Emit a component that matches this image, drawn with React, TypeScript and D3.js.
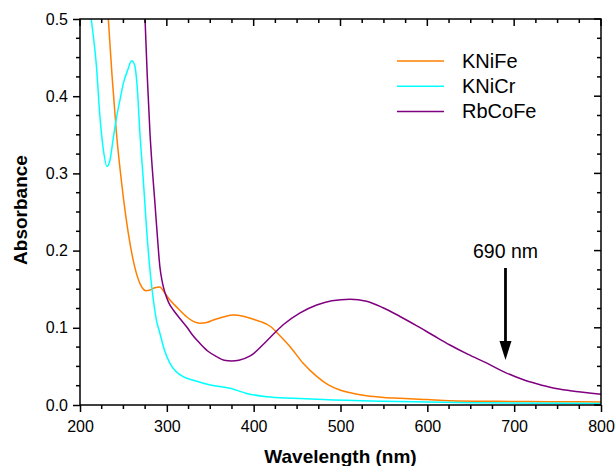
import React, { useEffect, useRef } from "react";
import * as d3 from "d3";

// KNiFe spectrum
const kniFeWavelength = [220, 226, 232.6, 237, 242, 248, 255.7, 263, 271, 276, 280.6, 286, 292, 297, 303.6, 313, 323, 331, 338, 346, 353.5, 365, 376.5, 388, 399.6, 408, 419, 430, 442, 457, 472.6, 486, 499.4, 515, 530, 550, 568.5, 600, 626, 680, 740, 800];
const kniFeAbsorbance = [0.70, 0.60, 0.5, 0.425, 0.352, 0.287, 0.222, 0.179, 0.153, 0.148, 0.149, 0.152, 0.153, 0.146, 0.136, 0.125, 0.114, 0.108, 0.106, 0.107, 0.110, 0.114, 0.1166, 0.115, 0.111, 0.108, 0.102, 0.090, 0.0755, 0.054, 0.037, 0.026, 0.0194, 0.015, 0.012, 0.0098, 0.0087, 0.007, 0.0056, 0.0048, 0.0043, 0.0040];

// KNiCr spectrum
const kniCrWavelength = [200, 206, 213, 219, 223, 227, 231, 234.5, 238, 242, 246, 250, 255, 259.5, 263, 266, 269, 273, 277, 281, 284.5, 288, 292, 297, 303.6, 310, 320, 330.5, 350, 373, 392, 415, 446, 480, 550, 650, 800];
const kniCrAbsorbance = [0.64, 0.57, 0.5, 0.438, 0.373, 0.330, 0.309, 0.317, 0.343, 0.372, 0.395, 0.417, 0.434, 0.446, 0.44, 0.41, 0.352, 0.29, 0.223, 0.17, 0.136, 0.11, 0.093, 0.072, 0.054, 0.044, 0.036, 0.032, 0.026, 0.0216, 0.015, 0.0108, 0.0087, 0.007, 0.0048, 0.003, 0.002];

// RbCoFe spectrum
const rbCoFeWavelength = [270, 274.9, 277.5, 280.6, 283, 286, 289, 292, 295, 298, 302, 307.5, 315, 323, 330, 338, 347, 357.4, 366, 374.7, 383, 396, 415, 434, 453, 472.6, 490, 511, 530, 549, 568, 588, 607, 626, 647, 668, 690, 710, 726, 745, 764.6, 800];
const rbCoFeAbsorbance = [0.63, 0.5, 0.425, 0.352, 0.31, 0.266, 0.22, 0.179, 0.158, 0.145, 0.133, 0.123, 0.112, 0.101, 0.090, 0.080, 0.070, 0.0626, 0.058, 0.057, 0.058, 0.0635, 0.083, 0.104, 0.119, 0.1295, 0.135, 0.137, 0.1345, 0.126, 0.115, 0.1025, 0.090, 0.0777, 0.0655, 0.0545, 0.042, 0.033, 0.0275, 0.022, 0.0185, 0.014];

const seriesNames = ["KNiFe", "KNiCr", "RbCoFe"];
const seriesColors = ["#FF7F00", "#00FFFF", "#800080"];

const xTicks = [200, 300, 400, 500, 600, 700, 800];
const yTicks = [0.0, 0.1, 0.2, 0.3, 0.4, 0.5];
const markerWavelength = 690;
const markerLabel = "690 nm";

const W = 616;
const H = 466;
const M = { left: 80, right: 601, top: 19, bottom: 405 };
const FONT = "'Liberation Sans', Arial, sans-serif";

export default function App() {
  const ref = useRef<SVGSVGElement>(null);

  useEffect(() => {
    const svg = d3.select(ref.current);
    svg.selectAll("*").remove();

    const x = d3.scaleLinear().domain([200, 800]).range([M.left, M.right]);
    const y = d3.scaleLinear().domain([0, 0.5]).range([M.bottom, M.top]);

    svg.append("defs").append("clipPath").attr("id", "plot-clip")
      .append("rect")
      .attr("x", M.left).attr("y", M.top)
      .attr("width", M.right - M.left).attr("height", M.bottom - M.top);

    const series = [
      { wl: kniFeWavelength, ab: kniFeAbsorbance },
      { wl: kniCrWavelength, ab: kniCrAbsorbance },
      { wl: rbCoFeWavelength, ab: rbCoFeAbsorbance },
    ];

    const line = d3.line<[number, number]>()
      .x(d => x(d[0]))
      .y(d => y(d[1]))
      .curve(d3.curveMonotoneX);

    const plot = svg.append("g").attr("clip-path", "url(#plot-clip)");
    series.forEach((s, i) => {
      const pts = s.wl.map((w, j) => [w, s.ab[j]] as [number, number]);
      plot.append("path")
        .attr("d", line(pts))
        .attr("fill", "none")
        .attr("stroke", seriesColors[i])
        .attr("stroke-width", 1.5);
    });

    // Frame
    svg.append("rect")
      .attr("x", M.left).attr("y", M.top)
      .attr("width", M.right - M.left).attr("height", M.bottom - M.top)
      .attr("fill", "none").attr("stroke", "#000").attr("stroke-width", 1.5);

    const xMinor = d3.range(200, 800.1, 25).filter(v => v % 100 !== 0);
    const yMinor = d3.range(0, 0.5001, 0.025).filter(v => Math.abs(v * 10 - Math.round(v * 10)) > 1e-6);

    // Bottom axis (outward ticks)
    const bottom = d3.axisBottom(x).tickValues(xTicks).tickSize(7).tickPadding(9).tickFormat(d3.format("d"));
    const gb = svg.append("g").attr("transform", `translate(0,${M.bottom})`).call(bottom);
    xMinor.forEach(v => {
      gb.append("line").attr("x1", x(v)).attr("x2", x(v)).attr("y1", 0).attr("y2", 4).attr("stroke", "#000").attr("stroke-width", 1.5);
    });

    // Left axis (outward ticks)
    const left = d3.axisLeft(y).tickValues(yTicks).tickSize(7).tickPadding(5).tickFormat(d3.format(".1f"));
    const gl = svg.append("g").attr("transform", `translate(${M.left},0)`).call(left);
    yMinor.forEach(v => {
      gl.append("line").attr("x1", 0).attr("x2", -4).attr("y1", y(v)).attr("y2", y(v)).attr("stroke", "#000").attr("stroke-width", 1.5);
    });

    // Top axis (inward ticks)
    const gt = svg.append("g");
    xTicks.forEach(v => gt.append("line").attr("x1", x(v)).attr("x2", x(v)).attr("y1", M.top).attr("y2", M.top + 7).attr("stroke", "#000").attr("stroke-width", 1.5));
    xMinor.forEach(v => gt.append("line").attr("x1", x(v)).attr("x2", x(v)).attr("y1", M.top).attr("y2", M.top + 4).attr("stroke", "#000").attr("stroke-width", 1.5));

    // Right axis (inward ticks)
    const gr = svg.append("g");
    yTicks.forEach(v => gr.append("line").attr("x1", M.right).attr("x2", M.right - 7).attr("y1", y(v)).attr("y2", y(v)).attr("stroke", "#000").attr("stroke-width", 1.5));
    yMinor.forEach(v => gr.append("line").attr("x1", M.right).attr("x2", M.right - 4).attr("y1", y(v)).attr("y2", y(v)).attr("stroke", "#000").attr("stroke-width", 1.5));

    [gb, gl].forEach(g => {
      g.select(".domain").remove();
      g.selectAll(".tick line").attr("stroke-width", 1.5);
      g.selectAll(".tick text").attr("font-family", FONT).attr("font-size", 16).attr("fill", "#000");
    });

    // Axis titles
    svg.append("text")
      .attr("x", (M.left + M.right) / 2).attr("y", 463)
      .attr("text-anchor", "middle")
      .attr("font-family", FONT).attr("font-weight", "bold").attr("font-size", 19)
      .text("Wavelength (nm)");
    svg.append("text")
      .attr("transform", `translate(27,${(M.top + M.bottom) / 2 - 2}) rotate(-90)`)
      .attr("text-anchor", "middle")
      .attr("font-family", FONT).attr("font-weight", "bold").attr("font-size", 19)
      .text("Absorbance");

    // Legend
    seriesNames.forEach((name, i) => {
      const ly = 61 + i * 25.3;
      svg.append("line").attr("x1", 397).attr("x2", 444).attr("y1", ly).attr("y2", ly)
        .attr("stroke", seriesColors[i]).attr("stroke-width", 1.5);
      svg.append("text").attr("x", 462).attr("y", ly + 6.5)
        .attr("font-family", FONT).attr("font-size", 20).text(name);
    });

    // 690 nm marker
    const mx = x(markerWavelength);
    svg.append("text").attr("x", mx).attr("y", 258)
      .attr("text-anchor", "middle")
      .attr("font-family", FONT).attr("font-size", 19.5).text(markerLabel);
    svg.append("line").attr("x1", mx).attr("x2", mx).attr("y1", 268).attr("y2", 345)
      .attr("stroke", "#000").attr("stroke-width", 2.8);
    svg.append("path")
      .attr("d", `M${mx - 6},${341} L${mx + 6},${341} L${mx},${360} Z`)
      .attr("fill", "#000");
  }, []);

  return (
    <svg
      ref={ref}
      width={W}
      height={H}
      style={{ position: "absolute", left: 0, top: 0, background: "#fff" }}
    />
  );
}
